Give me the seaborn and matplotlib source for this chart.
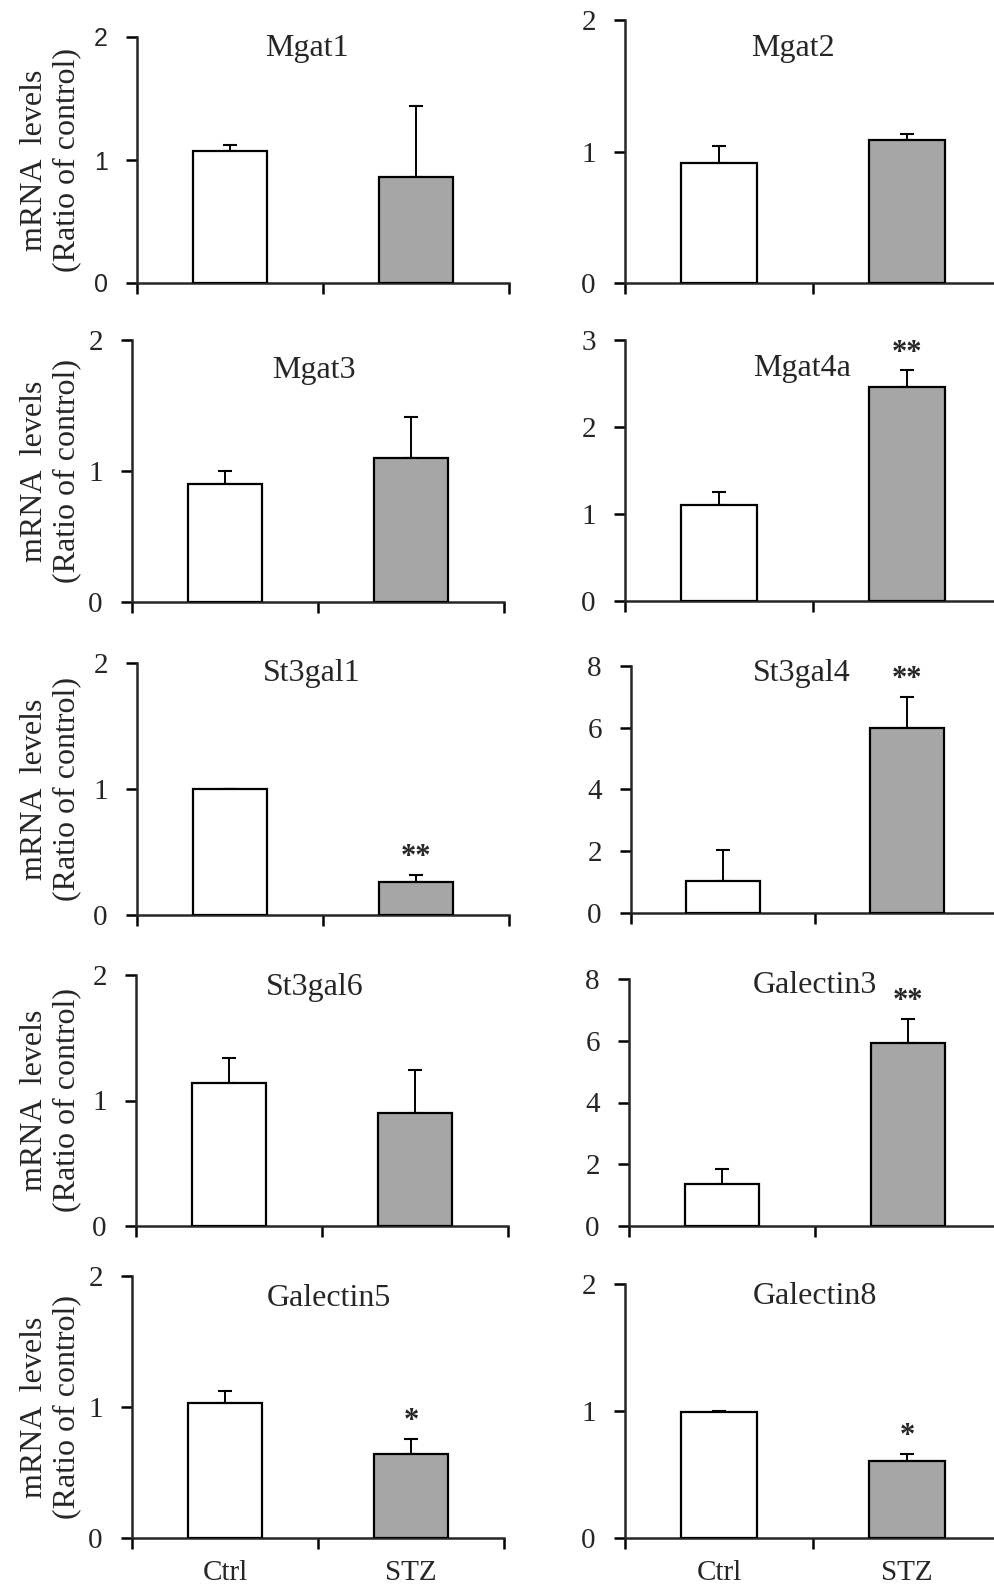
"""
Glycosylation-related gene expression, Ctrl vs STZ.

Ten small bar panels (mean + upper SE bar) laid out in a 5 x 2 grid,
with significance stars above the STZ bar where marked.
"""
import matplotlib

matplotlib.use("Agg")
import matplotlib.pyplot as plt
import seaborn as sns

# ---- data ---------------------------------------------------------------
GROUPS = ["Ctrl", "STZ"]
GENES = ["Mgat1", "Mgat2", "Mgat3", "Mgat4a", "St3gal1",
         "St3gal4", "St3gal6", "Galectin3", "Galectin5", "Galectin8"]
CTRL_MEAN = [1.07, 0.91, 0.90, 1.10, 1.00, 1.05, 1.14, 1.35, 1.03, 0.99]
CTRL_SE = [0.05, 0.13, 0.10, 0.15, 0.00, 1.00, 0.20, 0.50, 0.09, 0.01]
STZ_MEAN = [0.865, 1.09, 1.10, 2.46, 0.26, 6.00, 0.90, 5.93, 0.64, 0.61]
STZ_SE = [0.57, 0.04, 0.31, 0.19, 0.06, 1.00, 0.34, 0.78, 0.115, 0.05]
STARS = ["", "", "", "**", "**", "**", "", "**", "*", "*"]
Y_MAX = [2, 2, 2, 3, 2, 8, 2, 8, 2, 2]
Y_STEP = [1, 1, 1, 1, 1, 2, 1, 2, 1, 1]

# ---- layout (pixels on a 995 x 1589 canvas) ------------------------------
W, H = 995, 1589
BOXES = [  # left, top, right, bottom of each plotting area
    (137, 37, 509, 283), (625, 20, 1001, 283),
    (132, 340, 504, 602), (625, 340, 1001, 601),
    (137, 663, 509, 915), (631, 666, 999, 913),
    (136, 975, 508, 1226), (629, 979, 1001, 1226),
    (132, 1276, 504, 1538), (625, 1284, 1001, 1538),
]
TITLE_XY = [(0.457, 0.955), (0.447, 0.89), (0.49, 0.885), (0.47, 0.89),
            (0.47, 0.96), (0.465, 0.97), (0.48, 0.95), (0.50, 0.975),
            (0.53, 0.915), (0.505, 0.95)]

WHITE, GREY = "#ffffff", "#a6a6a6"
SERIF = ["Liberation Serif", "DejaVu Serif"]


def main() -> None:
    sns.set_style("ticks")
    plt.rcParams["font.family"] = SERIF
    plt.rcParams["axes.linewidth"] = 1.8

    fig = plt.figure(figsize=(W / 100, H / 100), dpi=100)

    for i, gene in enumerate(GENES):
        l, t, r, b = BOXES[i]
        ax = fig.add_axes([l / W, 1 - b / H, (r - l) / W, (b - t) / H])

        means = [CTRL_MEAN[i], STZ_MEAN[i]]
        ses = [CTRL_SE[i], STZ_SE[i]]
        sns.barplot(x=GROUPS, y=means, hue=GROUPS, palette=[WHITE, GREY],
                    width=0.4, edgecolor="black", linewidth=1.6,
                    errorbar=None, legend=False, ax=ax, zorder=3)
        ax.errorbar([0, 1], means, yerr=[[0, 0], ses], fmt="none",
                    ecolor="black", elinewidth=1.4, capsize=5, capthick=1.5,
                    zorder=2)

        ax.set_xlim(-0.5, 1.5)
        ax.set_ylim(0, Y_MAX[i])
        ax.set_yticks(range(0, Y_MAX[i] + 1, Y_STEP[i]))
        ax.set_xticks([-0.5, 0.5, 1.5])
        ax.set_xticklabels([])
        ax.set_xlabel("")
        ax.set_ylabel("")
        sns.despine(ax=ax)
        ax.spines["left"].set_linewidth(1.8)
        ax.spines["bottom"].set_linewidth(1.8)
        ax.tick_params(axis="both", which="major", direction="out",
                       length=8, width=1.8, color="black", pad=13)
        ax.tick_params(axis="y", labelsize=21)

        if i == 0:
            for lab in ax.get_yticklabels():
                lab.set_family(["Liberation Sans", "DejaVu Sans"])
                lab.set_fontsize(18)

        if i >= 8:
            ax.set_xticks([0, 1], minor=True)
            ax.set_xticklabels(GROUPS, minor=True, fontsize=21)
            ax.tick_params(axis="x", which="minor", length=0, pad=16)

        tx, ty = TITLE_XY[i]
        ax.text(tx, ty, gene, transform=ax.transAxes, ha="center",
                va="center", fontsize=23)

        if STARS[i]:
            ax.annotate(STARS[i], xy=(1, STZ_MEAN[i] + STZ_SE[i]),
                        xytext=(0, 7), textcoords="offset points",
                        ha="center", va="baseline", fontsize=22,
                        fontweight="bold")

        if i % 2 == 0:
            fig.text(51 / W, 1 - (t + b) / 2 / H,
                     "mRNA  levels\n(Ratio of control)", rotation=90,
                     ha="center", va="center", fontsize=23,
                     linespacing=1.15)

    fig.savefig("out.png", dpi=100)
    plt.close(fig)


if __name__ == "__main__":
    main()
